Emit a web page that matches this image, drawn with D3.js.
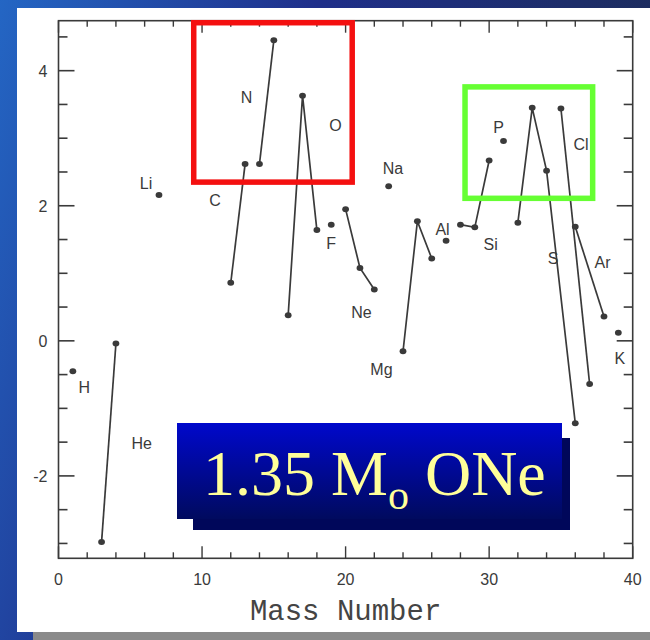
<!DOCTYPE html>
<html>
<head>
<meta charset="utf-8">
<script src="https://cdn.jsdelivr.net/npm/d3@7"></script>
<style>
  html, body { margin: 0; padding: 0; background: #1d3a8a; }
  svg { display: block; }
</style>
</head>
<body>
<svg id="chart"></svg>
<script>
// Data ----------------------------------------------------------------------
const elements = ["H", "He", "Li", "C", "N", "O", "F", "Ne", "Na", "Mg", "Al", "Si", "P", "S", "Cl", "Ar", "K"];
const massNumbers = [[1], [3, 4], [7], [12, 13], [14, 15], [16, 17, 18], [19], [20, 21, 22], [23],
    [24, 25, 26], [27], [28, 29, 30], [31], [32, 33, 34, 36], [35, 37], [36, 38], [39]];
const logValues = [[-0.45], [-2.98, -0.04], [2.16], [0.86, 2.62], [2.62, 4.45], [0.38, 3.63, 1.64], [1.72],
    [1.95, 1.08, 0.76], [2.29], [-0.155, 1.77, 1.22], [1.48], [1.72, 1.68, 2.67], [2.96],
    [1.75, 3.45, 2.52, -1.22], [3.44, -0.64], [1.69, 0.36], [0.12]];
// label anchors (mass number, value) for each element name
const labelMass = [1.8, 5.8, 6.1, 10.9, 13.1, 19.3, 19.0, 21.1, 23.3, 22.5, 26.75, 30.1, 30.65, 34.45, 36.4, 37.9, 39.1];
const labelValue = [-0.68, -1.51, 2.33, 2.08, 3.61, 3.2, 1.45, 0.43, 2.56, -0.42, 1.65, 1.44, 3.17, 1.23, 2.92, 1.16, -0.25];

const xTickValues = [0, 10, 20, 30, 40];
const yTickValues = [-2, 0, 2, 4];
const xLabel = "Mass Number";

// highlight boxes [massFrom, massTo, valueTop, valueBottom]
const redBox = [9.42, 20.46, 4.71, 2.35];
const greenBox = [28.32, 37.21, 3.76, 2.11];

// Layout --------------------------------------------------------------------
const width = 650;
const height = 640;
const plot = { left: 58.5, right: 632.7, top: 20.7, bottom: 558.3 };

const svg = d3.select("#chart").attr("width", width).attr("height", height);
const defs = svg.append("defs");

// background gradient frame
const bg = defs.append("linearGradient").attr("id", "bg")
    .attr("x1", "0").attr("y1", "0").attr("x2", "1").attr("y2", "0.3");
bg.append("stop").attr("offset", "0").attr("stop-color", "#2466c4");
bg.append("stop").attr("offset", "0.45").attr("stop-color", "#1f2f8a");
bg.append("stop").attr("offset", "1").attr("stop-color", "#1c2c58");
svg.append("rect").attr("width", width).attr("height", height).attr("fill", "url(#bg)");

svg.append("rect").attr("x", 17).attr("y", 8).attr("width", width - 17).attr("height", 624).attr("fill", "#ffffff");
svg.append("rect").attr("x", 33).attr("y", 632).attr("width", width - 33).attr("height", 8).attr("fill", "#8a8a8a");

// Scales --------------------------------------------------------------------
const x = d3.scaleLinear().domain([0, 40]).range([plot.left, plot.right]);
const y = d3.scaleLinear().domain([-3.22, 4.74]).range([plot.bottom, plot.top]);

const ink = "#3a3a3a";
const g = svg.append("g");

// frame
g.append("rect")
    .attr("x", plot.left).attr("y", plot.top)
    .attr("width", plot.right - plot.left).attr("height", plot.bottom - plot.top)
    .attr("fill", "none").attr("stroke", ink).attr("stroke-width", 1.6);

// inward ticks on all four sides
const xMinor = d3.range(0, 41, 2);
const yMinor = d3.range(-3, 4.6, 0.5);

function xTicks(yPos, dir) {
    g.selectAll(null).data(xMinor).join("line")
        .attr("x1", d => x(d)).attr("x2", d => x(d))
        .attr("y1", yPos)
        .attr("y2", d => yPos + dir * (d % 10 === 0 ? 12 : 6))
        .attr("stroke", ink).attr("stroke-width", 1.4);
}
function yTicks(xPos, dir) {
    g.selectAll(null).data(yMinor).join("line")
        .attr("y1", d => y(d)).attr("y2", d => y(d))
        .attr("x1", xPos)
        .attr("x2", d => xPos + dir * (d % 2 === 0 ? 16 : 9))
        .attr("stroke", ink).attr("stroke-width", 1.6);
}
xTicks(plot.bottom, -1);
xTicks(plot.top, 1);
yTicks(plot.left, 1);
yTicks(plot.right, -1);

// tick labels
g.selectAll(null).data(xTickValues).join("text")
    .attr("x", d => x(d)).attr("y", plot.bottom + 27)
    .attr("text-anchor", "middle")
    .attr("font-family", "Liberation Sans, Arial, sans-serif").attr("font-size", 16)
    .attr("fill", ink).text(d => d);

g.selectAll(null).data(yTickValues).join("text")
    .attr("x", plot.left - 11).attr("y", d => y(d) + 6)
    .attr("text-anchor", "end")
    .attr("font-family", "Liberation Sans, Arial, sans-serif").attr("font-size", 16)
    .attr("fill", ink).text(d => d);

g.append("text")
    .attr("x", x(20)).attr("y", 620)
    .attr("text-anchor", "middle")
    .attr("font-family", "Liberation Mono, Courier New, monospace").attr("font-size", 29)
    .attr("fill", "#444").text(xLabel);

// isotope chains
const chains = elements.map((el, i) => massNumbers[i].map((m, j) => ({ m: m, v: logValues[i][j] })));
const line = d3.line().x(d => x(d.m)).y(d => y(d.v));

g.selectAll(null).data(chains.filter(c => c.length > 1)).join("path")
    .attr("d", line)
    .attr("fill", "none").attr("stroke", ink).attr("stroke-width", 1.7);

g.selectAll(null).data(chains.flat()).join("ellipse")
    .attr("cx", d => x(d.m)).attr("cy", d => y(d.v))
    .attr("rx", 3.4).attr("ry", 3)
    .attr("fill", ink);

// element names
g.selectAll(null).data(elements).join("text")
    .attr("x", (d, i) => x(labelMass[i])).attr("y", (d, i) => y(labelValue[i]) + 6)
    .attr("text-anchor", "middle")
    .attr("font-family", "Liberation Sans, Arial, sans-serif").attr("font-size", 16)
    .attr("fill", ink).text(d => d);

// highlight boxes
function box(b, color) {
    svg.append("rect")
        .attr("x", x(b[0])).attr("y", y(b[2]))
        .attr("width", x(b[1]) - x(b[0])).attr("height", y(b[3]) - y(b[2]))
        .attr("fill", "none").attr("stroke", color).attr("stroke-width", 5.5);
}
box(redBox, "#f41010");
box(greenBox, "#66ff33");

// title panel
const tg = defs.append("linearGradient").attr("id", "title")
    .attr("x1", "0").attr("y1", "0").attr("x2", "0").attr("y2", "1");
tg.append("stop").attr("offset", "0").attr("stop-color", "#0008cc");
tg.append("stop").attr("offset", "1").attr("stop-color", "#000a5e");

svg.append("rect").attr("x", 193).attr("y", 438).attr("width", 377).attr("height", 92).attr("fill", "#00075a");
svg.append("rect").attr("x", 177).attr("y", 423).attr("width", 385).attr("height", 96).attr("fill", "url(#title)");

const title = svg.append("text")
    .attr("x", 203).attr("y", 495)
    .attr("font-family", "Liberation Serif, Times New Roman, serif").attr("font-size", 64)
    .attr("fill", "#ffff99");
title.append("tspan").text("1.35 M");
title.append("tspan").attr("font-size", 42).attr("dy", 14).text("o");
title.append("tspan").attr("dy", -14).text(" ONe");
</script>
</body>
</html>
